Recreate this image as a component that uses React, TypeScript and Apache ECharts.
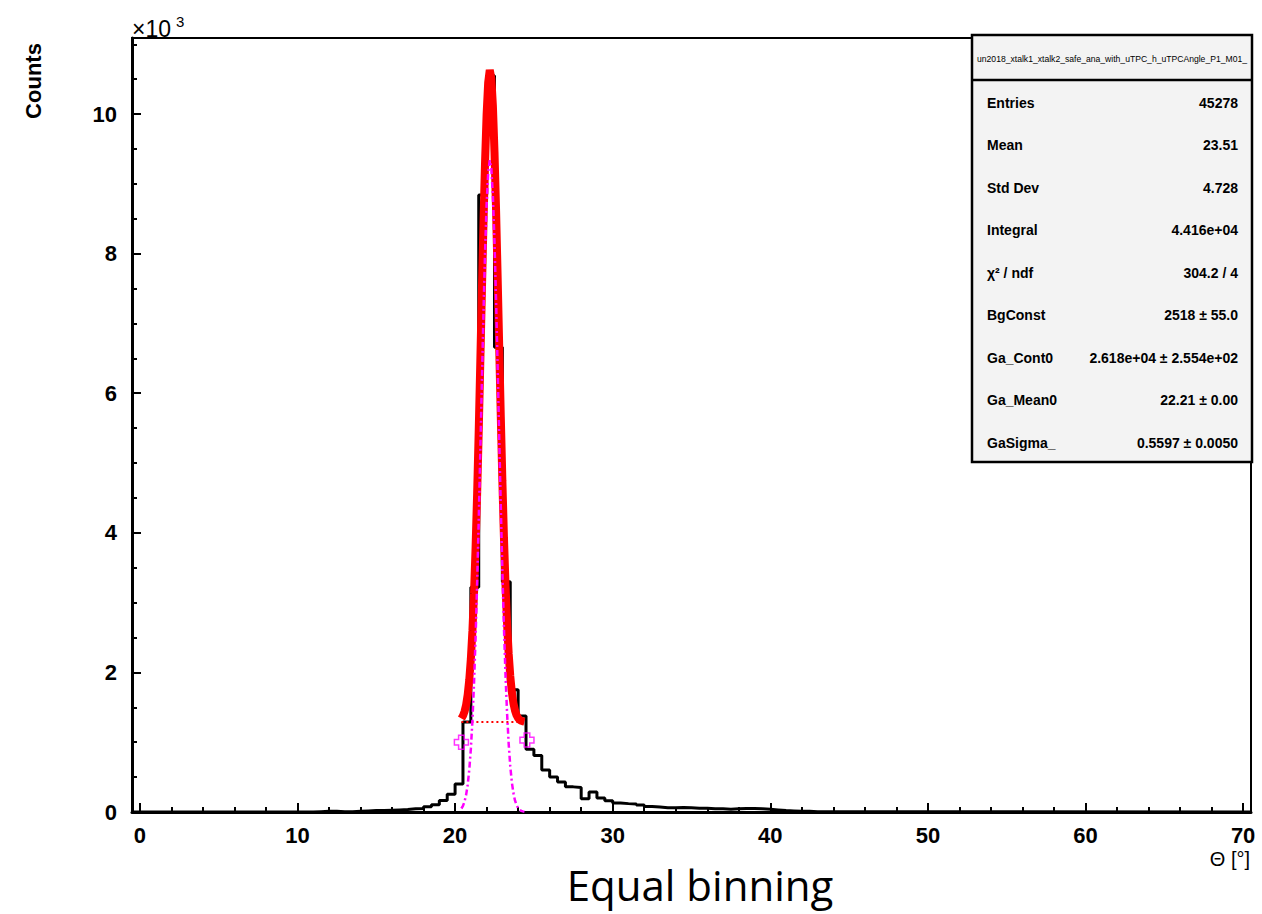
import React, { useEffect, useRef } from "react";
import * as echarts from "echarts";

// ---- histogram (bin width 0.5, axis range -0.5 .. 70.5) ----
const X_MIN = -0.5;
const X_MAX = 70.5;
const BIN_WIDTH = 0.5;
const FIRST_BIN_LOW = 11.0;
const binCounts = [
  5, 10, 10, 5, 5, 10, 15, 20, 20, 25, 30, 35, 45, 50, 75, 105, 165, 255, 400,
  1290, 3220, 8840, 10550, 6660, 3300, 1750, 1375, 900, 810, 600, 500, 430, 360,
  350, 190, 285, 200, 160, 130, 120, 115, 100, 80, 70, 60, 60, 65, 60, 55, 55,
  45, 45, 40, 45, 50, 50, 45, 40, 30, 20, 15, 10, 10, 5, 5,
];

// ---- fit (total = bg + gauss), gauss component, background ----
const fitX = [
  20.4, 20.5, 20.6, 20.7, 20.8, 20.9, 21.0, 21.1, 21.2, 21.3, 21.4, 21.5, 21.6,
  21.7, 21.8, 21.9, 22.0, 22.1, 22.2, 22.3, 22.4, 22.5, 22.6, 22.7, 22.8, 22.9,
  23.0, 23.1, 23.2, 23.3, 23.4, 23.5, 23.6, 23.7, 23.8, 23.9, 24.0, 24.1, 24.2,
  24.3, 24.4,
];
const fitTotal = [
  1340, 1378, 1440, 1536, 1682, 1895, 2194, 2600, 3125, 3785, 4572, 5470, 6451,
  7458, 8435, 9303, 9996, 10453, 10630, 10510, 10108, 9459, 8619, 7660, 6651,
  5661, 4743, 3933, 3248, 2696, 2267, 1947, 1719, 1561, 1456, 1388, 1346, 1321,
  1307, 1299, 1294,
];
const gaussPart = [
  50, 88, 150, 246, 392, 605, 904, 1310, 1835, 2495, 3282, 4180, 5161, 6168,
  7145, 8013, 8706, 9163, 9340, 9220, 8818, 8169, 7329, 6370, 5361, 4371, 3453,
  2643, 1958, 1406, 977, 657, 429, 271, 166, 98, 56, 31, 17, 9, 4,
];
const bgLevel = 1290;
const bgRange = [20.4, 24.4];

const markerX = [20.4, 24.56];
const markerY = [1000, 1030];

// ---- axes ----
const xMajorTicks = [0, 10, 20, 30, 40, 50, 60, 70];
const yMajorTicks = [0, 2000, 4000, 6000, 8000, 10000];
const Y_MAX = 11090;

// ---- stats box ----
const statTitle = "un2018_xtalk1_xtalk2_safe_ana_with_uTPC_h_uTPCAngle_P1_M01_";
const statLabels = [
  "Entries", "Mean", "Std Dev", "Integral", "χ² / ndf", "BgConst",
  "Ga_Cont0", "Ga_Mean0", "GaSigma_",
];
const statValues = [
  "45278", "23.51", "4.728", "4.416e+04", "304.2 / 4", "2518 ± 55.0",
  "2.618e+04 ± 2.554e+02", "22.21 ± 0.00", "0.5597 ± 0.0050",
];

const FONT = "'Liberation Sans', Arial, Helvetica, sans-serif";

export default function App() {
  const ref = useRef<HTMLDivElement>(null);

  useEffect(() => {
    if (!ref.current) return;
    const chart = echarts.init(ref.current, null, { renderer: "svg" });

    const hist: number[][] = [[X_MIN, 0]];
    binCounts.forEach((c, i) => hist.push([FIRST_BIN_LOW + i * BIN_WIDTH, c]));
    hist.push([FIRST_BIN_LOW + binCounts.length * BIN_WIDTH, 0]);
    hist.push([X_MAX, 0]);

    const xMinor: number[] = [];
    for (let v = 0; v <= 70; v += 2) if (v % 10 !== 0) xMinor.push(v);
    const yMinor: number[] = [];
    for (let v = 500; v <= 11000; v += 500) if (v % 2000 !== 0) yMinor.push(v);

    const boxL = 972, boxR = 1252, boxT = 35, boxB = 462, headB = 80;
    const rowY0 = 102.5, rowStep = 42.5;

    const graphics: any[] = [
      {
        type: "rect", z: 100,
        shape: { x: boxL, y: boxT, width: boxR - boxL, height: boxB - boxT },
        style: { fill: "#f3f3f3", stroke: "#000", lineWidth: 2.5 },
      },
      {
        type: "line", z: 101,
        shape: { x1: boxL, y1: headB, x2: boxR, y2: headB },
        style: { stroke: "#000", lineWidth: 2.5 },
      },
      {
        type: "text", z: 101, x: (boxL + boxR) / 2, y: (boxT + headB) / 2 + 1,
        style: {
          text: statTitle, fontSize: 8.6, fontFamily: FONT, fill: "#000",
          align: "center", verticalAlign: "middle",
        },
      },
      {
        type: "text", x: 33, y: 81, rotation: Math.PI / 2,
        style: {
          text: "Counts", fontSize: 22, fontWeight: "bold", fontFamily: FONT,
          fill: "#000", align: "center", verticalAlign: "middle",
        },
      },
      {
        type: "text", x: 132, y: 29,
        style: {
          text: "×10", fontSize: 23, fontFamily: FONT, fill: "#000",
          align: "left", verticalAlign: "middle",
        },
      },
      {
        type: "text", x: 176, y: 21,
        style: {
          text: "3", fontSize: 15, fontFamily: FONT, fill: "#000",
          align: "left", verticalAlign: "middle",
        },
      },
      {
        type: "text", x: 1250, y: 859,
        style: {
          text: "Θ [°]", fontSize: 20, fontFamily: FONT, fill: "#000",
          align: "right", verticalAlign: "middle",
        },
      },
      {
        type: "text", x: 700, y: 884,
        style: {
          text: "Equal binning", fontSize: 42, fontFamily: "'Open Sans', Lato, sans-serif",
          fill: "#000", align: "center", verticalAlign: "middle",
        },
      },
    ];
    statLabels.forEach((lab, i) => {
      graphics.push({
        type: "text", z: 101, x: 987, y: rowY0 + i * rowStep,
        style: {
          text: lab, fontSize: 14, fontWeight: "bold", fontFamily: FONT,
          fill: "#000", align: "left", verticalAlign: "middle",
        },
      });
      graphics.push({
        type: "text", z: 101, x: 1238, y: rowY0 + i * rowStep,
        style: {
          text: statValues[i], fontSize: 14, fontWeight: "bold", fontFamily: FONT,
          fill: "#000", align: "right", verticalAlign: "middle",
        },
      });
    });

    const option: any = {
      animation: false,
      backgroundColor: "#fff",
      grid: {
        left: 132, right: 11, top: 38, bottom: 102, show: true,
        borderColor: "#000", borderWidth: 2, backgroundColor: "transparent",
      },
      xAxis: [
        {
          type: "value", min: X_MIN, max: X_MAX, position: "bottom",
          axisLine: { show: true, onZero: false, lineStyle: { color: "#000", width: 3 } },
          axisTick: {
            show: true, inside: true, length: 9, customValues: xMajorTicks,
            lineStyle: { color: "#000", width: 2 },
          },
          axisLabel: {
            show: true, customValues: xMajorTicks, margin: 12, color: "#000",
            fontSize: 22, fontWeight: "bold", fontFamily: FONT,
          },
          splitLine: { show: false },
        },
        {
          type: "value", min: X_MIN, max: X_MAX, position: "bottom",
          axisLine: { show: false, onZero: false },
          axisTick: {
            show: true, inside: true, length: 5, customValues: xMinor,
            lineStyle: { color: "#000", width: 2 },
          },
          axisLabel: { show: false },
          splitLine: { show: false },
        },
      ],
      yAxis: [
        {
          type: "value", min: 0, max: Y_MAX, position: "left",
          axisLine: { show: true, onZero: false, lineStyle: { color: "#000", width: 3 } },
          axisTick: {
            show: true, inside: true, length: 9, customValues: yMajorTicks,
            lineStyle: { color: "#000", width: 2 },
          },
          axisLabel: {
            show: true, customValues: yMajorTicks, margin: 15, color: "#000",
            fontSize: 22, fontWeight: "bold", fontFamily: FONT,
            formatter: (v: number) => String(Math.round(v / 1000)),
          },
          splitLine: { show: false },
        },
        {
          type: "value", min: 0, max: Y_MAX, position: "left",
          axisLine: { show: false, onZero: false },
          axisTick: {
            show: true, inside: true, length: 5, customValues: yMinor,
            lineStyle: { color: "#000", width: 2 },
          },
          axisLabel: { show: false },
          splitLine: { show: false },
        },
      ],
      series: [
        {
          type: "line", name: "hist", step: "end", data: hist, symbol: "none",
          lineStyle: { color: "#000", width: 3 }, z: 2,
        },
        {
          type: "line", name: "fit", data: fitX.map((x, i) => [x, fitTotal[i]]),
          symbol: "none", lineStyle: { color: "#ff0000", width: 8 }, z: 3,
        },
        {
          type: "line", name: "bg",
          data: [[bgRange[0], bgLevel], [bgRange[1], bgLevel]],
          symbol: "none",
          lineStyle: { color: "#ff0000", width: 2, type: [2, 3] }, z: 4,
        },
        {
          type: "line", name: "gauss", data: fitX.map((x, i) => [x, gaussPart[i]]),
          symbol: "none",
          lineStyle: { color: "#ff00ff", width: 2.5, type: [6, 3, 2, 3] }, z: 5,
        },
        {
          type: "scatter", name: "markers",
          data: markerX.map((x, i) => [x, markerY[i]]),
          symbol: "path://M3,0 L7,0 L7,3 L10,3 L10,7 L7,7 L7,10 L3,10 L3,7 L0,7 L0,3 L3,3 Z",
          symbolSize: 14,
          itemStyle: { color: "rgba(0,0,0,0)", borderColor: "#ff00ff", borderWidth: 1.5 },
          z: 6,
        },
      ],
      graphic: graphics,
    };

    chart.setOption(option);
    return () => chart.dispose();
  }, []);

  return (
    <div
      ref={ref}
      style={{ position: "fixed", left: 0, top: 0, width: 1262, height: 914, background: "#fff" }}
    />
  );
}
